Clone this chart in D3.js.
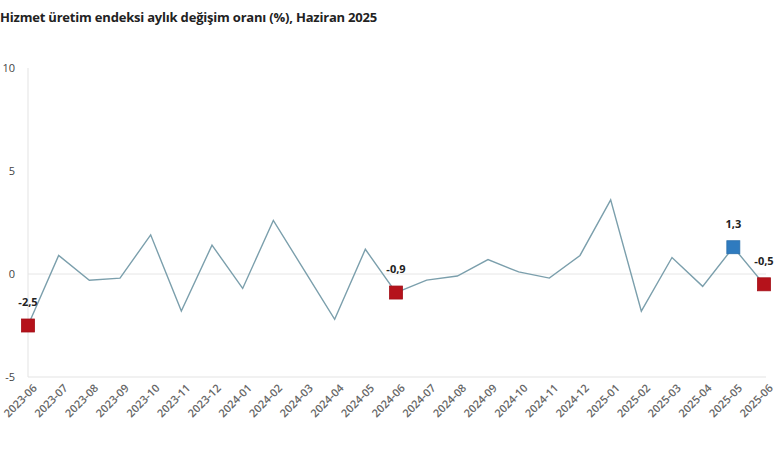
<!DOCTYPE html>
<html>
<head>
<meta charset="utf-8">
<script src="https://cdn.jsdelivr.net/npm/d3@7"></script>
<style>
  body { margin: 0; background: #fff; }
  text { font-family: "Open Sans", sans-serif; }
</style>
</head>
<body>
<div id="chartArea"></div>
<script>
const width = 780;
const height = 470;

const months = ["2023-06","2023-07","2023-08","2023-09","2023-10","2023-11","2023-12",
  "2024-01","2024-02","2024-03","2024-04","2024-05","2024-06","2024-07","2024-08",
  "2024-09","2024-10","2024-11","2024-12","2025-01","2025-02","2025-03","2025-04",
  "2025-05","2025-06"];
const values = [-2.5, 0.9, -0.3, -0.2, 1.9, -1.8, 1.4, -0.7, 2.6, 0.2, -2.2, 1.2, -0.9,
  -0.3, -0.1, 0.7, 0.1, -0.2, 0.9, 3.6, -1.8, 0.8, -0.6, 1.3, -0.5];
const yTicks = [-5, 0, 5, 10];
// highlighted points: month, colour
const highlights = [
  { month: "2023-06", color: "#b5121b" },
  { month: "2024-06", color: "#b5121b" },
  { month: "2025-05", color: "#2f7bbf" },
  { month: "2025-06", color: "#b5121b" }
];

const margin = { top: 68, right: 16, bottom: 93, left: 28 };

const svg = d3.select("#chartArea")
    .append("svg")
    .attr("width", width)
    .attr("height", height);

const x = d3.scalePoint()
    .domain(months)
    .range([margin.left, width - margin.right]);

const y = d3.scaleLinear()
    .domain([-5, 10])
    .range([height - margin.bottom, margin.top]);

const data = months.map((m, i) => ({ month: m, value: values[i] }));

// title
svg.append("text")
    .attr("x", 0)
    .attr("y", 22)
    .style("font-size", "13px")
    .style("font-weight", "bold")
    .style("letter-spacing", "-0.2px")
    .attr("fill", "#222")
    .text("Hizmet üretim endeksi aylık değişim oranı (%), Haziran 2025");

// zero line
svg.append("line")
    .attr("x1", margin.left).attr("x2", width - margin.right + 2)
    .attr("y1", y(0)).attr("y2", y(0))
    .attr("stroke", "#e6e6e6");

// axes lines
svg.append("line")
    .attr("x1", margin.left).attr("x2", margin.left)
    .attr("y1", y(10)).attr("y2", y(-5))
    .attr("stroke", "#e3e3e3");
svg.append("line")
    .attr("x1", margin.left).attr("x2", width - margin.right + 2)
    .attr("y1", y(-5)).attr("y2", y(-5))
    .attr("stroke", "#e3e3e3");

// y tick labels
svg.append("g")
    .selectAll("text")
    .data(yTicks)
    .enter().append("text")
    .attr("x", 15)
    .attr("y", d => y(d))
    .attr("dy", "0.35em")
    .attr("text-anchor", "end")
    .style("font-size", "11px")
    .attr("fill", "#444")
    .text(d => d);

// x tick labels
svg.append("g")
    .selectAll("text")
    .data(months)
    .enter().append("text")
    .attr("transform", d => `translate(${x(d) + 7},${y(-5) + 9}) rotate(-45)`)
    .attr("text-anchor", "end")
    .attr("dy", "0.35em")
    .style("font-size", "11px")
    .style("font-weight", "600")
    .attr("fill", "#666")
    .text(d => d);

// line
const line = d3.line()
    .x(d => x(d.month))
    .y(d => y(d.value));

svg.append("path")
    .datum(data)
    .attr("fill", "none")
    .attr("stroke", "#7b9fac")
    .attr("stroke-width", 1.4)
    .attr("d", line);

// markers
const hl = highlights.map(h => ({ ...h, value: values[months.indexOf(h.month)] }));
const size = 13;

svg.append("g")
    .selectAll("rect")
    .data(hl)
    .enter().append("rect")
    .attr("x", d => x(d.month) - size / 2)
    .attr("y", d => y(d.value) - size / 2)
    .attr("width", size)
    .attr("height", size)
    .attr("fill", d => d.color)
    .attr("stroke", d => d3.color(d.color).darker(0.3))
    .attr("stroke-width", 0.8);

svg.append("g")
    .selectAll("text")
    .data(hl)
    .enter().append("text")
    .attr("x", d => x(d.month))
    .attr("y", d => y(d.value) - 23)
    .attr("dy", "0.35em")
    .attr("text-anchor", "middle")
    .style("font-size", "11px")
    .style("font-weight", "bold")
    .attr("fill", "#222")
    .text(d => d3.format(".1f")(d.value).replace("−", "-").replace(".", ","));
</script>
</body>
</html>
